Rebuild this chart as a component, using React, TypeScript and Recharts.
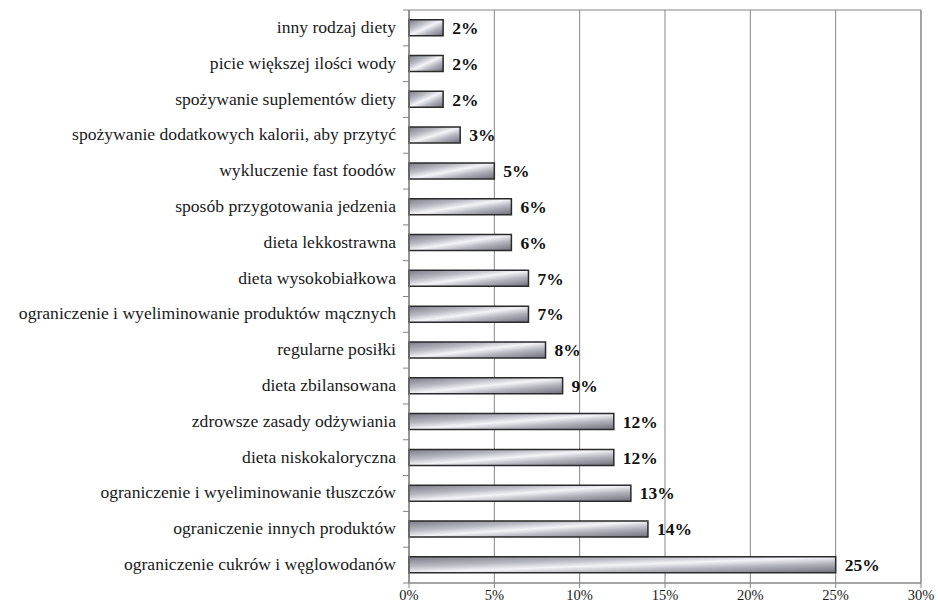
import React from 'react';
import {
  BarChart,
  Bar,
  XAxis,
  YAxis,
  CartesianGrid,
  LabelList,
  ReferenceArea,
} from 'recharts';

// Categories, listed top to bottom
const categories: string[] = [
  'inny rodzaj diety',
  'picie większej ilości wody',
  'spożywanie suplementów diety',
  'spożywanie dodatkowych kalorii, aby przytyć',
  'wykluczenie fast foodów',
  'sposób przygotowania jedzenia',
  'dieta lekkostrawna',
  'dieta wysokobiałkowa',
  'ograniczenie i wyeliminowanie produktów mącznych',
  'regularne posiłki',
  'dieta zbilansowana',
  'zdrowsze zasady odżywiania',
  'dieta niskokaloryczna',
  'ograniczenie i wyeliminowanie tłuszczów',
  'ograniczenie innych produktów',
  'ograniczenie cukrów i węglowodanów',
];

// Share of respondents (%)
const shares: number[] = [2, 2, 2, 3, 5, 6, 6, 7, 7, 8, 9, 12, 12, 13, 14, 25];

const xTicks: number[] = [0, 5, 10, 15, 20, 25, 30];

const data = categories.map((name, i) => ({ name, value: shares[i] }));

const FONT = '"Liberation Serif", "Times New Roman", serif';
const AXIS_COLOR = '#858585';

// Category label plus small tick marks on the band boundaries
const CategoryTick = (props: any) => {
  const { x, y, payload, index } = props;
  const half = payload.offset ?? 0;
  return (
    <g>
      <text
        x={x - 13}
        y={y}
        dy={5}
        textAnchor="end"
        fontFamily={FONT}
        fontSize={17.6}
        fill="#1a1a1a"
      >
        {payload.value}
      </text>
      <line x1={x - 6} x2={x} y1={y + half} y2={y + half} stroke={AXIS_COLOR} strokeWidth={1} />
      {index === 0 && (
        <line x1={x - 6} x2={x} y1={y - half} y2={y - half} stroke={AXIS_COLOR} strokeWidth={1} />
      )}
    </g>
  );
};

export default function App() {
  return (
    <div style={{ position: 'absolute', left: 0, top: 0, width: 938, height: 606, background: '#fff' }}>
      <BarChart
        width={938}
        height={606}
        data={data}
        layout="vertical"
        margin={{ top: 10, right: 17, bottom: 0, left: 0 }}
        barCategoryGap="27%"
      >
        <defs>
          <linearGradient id="steel" x1="0" y1="0" x2="1" y2="1">
            <stop offset="0%" stopColor="#7c7c88" />
            <stop offset="30%" stopColor="#b8b8c2" />
            <stop offset="50%" stopColor="#f4f4f8" />
            <stop offset="70%" stopColor="#b4b4be" />
            <stop offset="100%" stopColor="#6e6e7a" />
          </linearGradient>
        </defs>
        <CartesianGrid horizontal={false} vertical stroke={AXIS_COLOR} strokeWidth={1} />
        <ReferenceArea x1={0} x2={30} fill="none" stroke={AXIS_COLOR} strokeWidth={1} ifOverflow="visible" />
        <XAxis
          type="number"
          domain={[0, 30]}
          ticks={xTicks}
          tickFormatter={(v: number) => `${v}%`}
          axisLine={{ stroke: AXIS_COLOR }}
          tickLine={{ stroke: AXIS_COLOR }}
          tickSize={5}
          height={23}
          interval={0}
          tick={{ fontFamily: FONT, fontSize: 14.5, fill: '#1a1a1a' }}
        />
        <YAxis
          type="category"
          dataKey="name"
          width={409}
          axisLine={{ stroke: AXIS_COLOR }}
          tickLine={false}
          tickSize={0}
          tickMargin={0}
          interval={0}
          tick={<CategoryTick />}
        />
        <Bar
          dataKey="value"
          fill="url(#steel)"
          stroke="#2a2a2a"
          strokeWidth={1.5}
          isAnimationActive={false}
        >
          <LabelList
            dataKey="value"
            position="right"
            offset={9}
            formatter={(v: number) => `${v}%`}
            style={{ fontFamily: FONT, fontSize: 17.5, fontWeight: 700, fill: '#111' }}
          />
        </Bar>
      </BarChart>
    </div>
  );
}
